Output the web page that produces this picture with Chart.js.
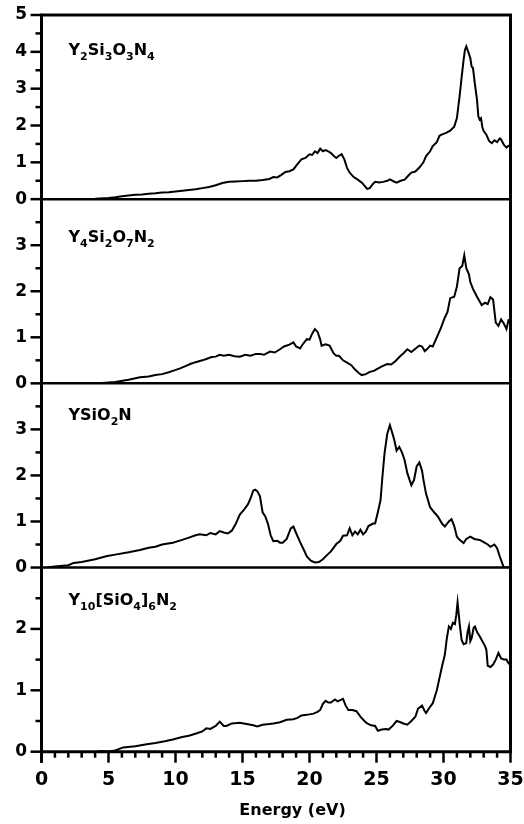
<!DOCTYPE html>
<html>
<head>
<meta charset="utf-8">
<script src="https://cdn.jsdelivr.net/npm/chart.js@4.4.1/dist/chart.umd.min.js"></script>
<style>
  html, body { margin: 0; padding: 0; background: #fff; overflow: hidden; }
  #wrap { width: 524px; height: 824px; position: relative; }
  #c { display: block; }
</style>
</head>
<body>
<div id="wrap"><canvas id="c"></canvas></div>
<script>
// Imaginary part of the dielectric function, eps2(E), for four Y-Si-O-N phases.
// Each series is a list of [energy (eV), eps2] pairs.
const y2si3o3n4 = [[2.5,0],[3,0.005],[4,0.01],[5,0.03],[5.5,0.05],[6,0.08],[6.5,0.1],[7,0.12],[7.5,0.13],[8,0.15],[8.5,0.16],[9,0.18],[9.5,0.19],[10,0.21],[10.5,0.23],[11,0.25],[11.5,0.27],[12,0.3],[12.5,0.33],[13,0.38],[13.5,0.44],[14,0.47],[14.5,0.48],[15,0.49],[15.5,0.5],[16,0.5],[16.5,0.52],[17,0.55],[17.3,0.6],[17.6,0.59],[17.9,0.66],[18.2,0.74],[18.5,0.76],[18.8,0.81],[19.1,0.95],[19.4,1.08],[19.7,1.12],[20.0,1.22],[20.2,1.2],[20.4,1.3],[20.6,1.25],[20.8,1.37],[21.0,1.3],[21.2,1.33],[21.4,1.3],[21.6,1.25],[21.8,1.18],[22.0,1.12],[22.2,1.18],[22.4,1.22],[22.6,1.08],[22.8,0.85],[23.0,0.72],[23.3,0.6],[23.6,0.53],[23.9,0.45],[24.1,0.37],[24.3,0.28],[24.5,0.3],[24.7,0.4],[24.9,0.47],[25.2,0.45],[25.5,0.47],[25.8,0.5],[26.0,0.54],[26.3,0.48],[26.5,0.45],[26.8,0.5],[27.1,0.53],[27.4,0.65],[27.6,0.72],[27.9,0.75],[28.2,0.86],[28.5,1.0],[28.7,1.17],[29.0,1.3],[29.2,1.44],[29.5,1.55],[29.7,1.72],[29.9,1.76],[30.2,1.8],[30.5,1.86],[30.8,1.97],[31.0,2.2],[31.2,2.79],[31.35,3.3],[31.5,3.78],[31.6,4.05],[31.7,4.15],[31.85,4.0],[32.0,3.83],[32.1,3.6],[32.2,3.56],[32.35,3.1],[32.5,2.7],[32.6,2.25],[32.7,2.16],[32.8,2.2],[32.9,1.95],[33.0,1.85],[33.2,1.75],[33.4,1.58],[33.6,1.52],[33.8,1.6],[34.0,1.55],[34.2,1.65],[34.3,1.62],[34.5,1.48],[34.7,1.4],[34.85,1.45],[35,1.44]];

const y4si2o7n2 = [[3.6,0],[4.5,0.01],[5.5,0.03],[6.5,0.08],[7.35,0.13],[8,0.15],[8.5,0.18],[9,0.2],[9.5,0.24],[9.8,0.27],[10.3,0.32],[10.7,0.37],[11.1,0.42],[11.5,0.46],[12,0.5],[12.3,0.53],[12.7,0.57],[13.0,0.58],[13.3,0.62],[13.6,0.6],[14.0,0.62],[14.4,0.59],[14.8,0.58],[15.2,0.62],[15.6,0.6],[16.0,0.64],[16.3,0.64],[16.6,0.62],[17.05,0.69],[17.4,0.67],[17.8,0.74],[18.1,0.8],[18.5,0.84],[18.8,0.89],[19.0,0.8],[19.3,0.76],[19.5,0.85],[19.8,0.96],[20.0,0.95],[20.2,1.08],[20.4,1.18],[20.6,1.12],[20.8,0.95],[20.9,0.82],[21.2,0.85],[21.5,0.82],[21.8,0.65],[22.0,0.6],[22.2,0.6],[22.5,0.5],[22.8,0.45],[23.1,0.4],[23.4,0.3],[23.7,0.22],[23.9,0.18],[24.2,0.2],[24.5,0.25],[24.8,0.27],[25.1,0.32],[25.4,0.37],[25.8,0.42],[26.1,0.41],[26.4,0.48],[26.8,0.6],[27.0,0.65],[27.3,0.74],[27.6,0.68],[27.9,0.75],[28.2,0.82],[28.4,0.8],[28.6,0.7],[28.8,0.75],[29.0,0.82],[29.2,0.8],[29.5,1.0],[29.8,1.2],[30.1,1.43],[30.3,1.55],[30.5,1.85],[30.8,1.88],[31.0,2.1],[31.2,2.5],[31.4,2.55],[31.55,2.78],[31.7,2.5],[31.9,2.37],[32.0,2.2],[32.2,2.05],[32.5,1.88],[32.85,1.7],[33.1,1.75],[33.3,1.72],[33.5,1.87],[33.7,1.82],[33.9,1.32],[34.1,1.25],[34.3,1.39],[34.5,1.3],[34.7,1.18],[34.85,1.37],[35,1.35]];

const ysio2n = [[0.4,0],[1,0.02],[2,0.05],[2.4,0.1],[3,0.12],[4,0.18],[4.9,0.25],[5.5,0.28],[6.5,0.33],[7.35,0.38],[8,0.43],[8.5,0.45],[9,0.5],[9.8,0.54],[10.5,0.6],[11,0.65],[11.5,0.7],[11.8,0.72],[12.3,0.7],[12.6,0.75],[13.0,0.72],[13.3,0.79],[13.6,0.76],[13.9,0.74],[14.2,0.8],[14.5,0.95],[14.8,1.15],[15.1,1.25],[15.4,1.37],[15.6,1.5],[15.8,1.67],[15.95,1.69],[16.1,1.66],[16.3,1.55],[16.5,1.2],[16.7,1.11],[16.9,0.95],[17.1,0.7],[17.3,0.57],[17.6,0.58],[17.8,0.54],[18.0,0.54],[18.3,0.62],[18.6,0.85],[18.8,0.89],[19.0,0.75],[19.3,0.55],[19.6,0.37],[19.8,0.24],[20.1,0.15],[20.4,0.11],[20.7,0.12],[21.0,0.18],[21.3,0.27],[21.6,0.35],[22.0,0.51],[22.3,0.58],[22.5,0.69],[22.8,0.7],[23.0,0.85],[23.2,0.7],[23.4,0.78],[23.6,0.72],[23.8,0.82],[24.0,0.72],[24.2,0.78],[24.4,0.9],[24.7,0.95],[24.9,0.96],[25.1,1.2],[25.3,1.46],[25.45,2.0],[25.6,2.48],[25.8,2.9],[26.0,3.09],[26.15,2.95],[26.3,2.8],[26.5,2.54],[26.7,2.62],[26.9,2.5],[27.1,2.33],[27.3,2.05],[27.6,1.79],[27.8,1.9],[28.0,2.2],[28.2,2.28],[28.4,2.1],[28.5,1.91],[28.7,1.6],[29.0,1.31],[29.3,1.2],[29.6,1.1],[29.9,0.95],[30.1,0.89],[30.4,1.0],[30.6,1.05],[30.8,0.9],[31.0,0.67],[31.2,0.6],[31.5,0.53],[31.7,0.62],[32.0,0.67],[32.3,0.62],[32.7,0.6],[33.0,0.55],[33.3,0.5],[33.5,0.45],[33.8,0.5],[34.0,0.42],[34.2,0.24],[34.4,0.08],[34.5,0],[35,0]];

const y10sio46n2 = [[4.1,0],[4.5,0.01],[4.9,0],[5.5,0.02],[6.1,0.07],[7,0.09],[7.85,0.12],[8.5,0.14],[9.2,0.17],[9.8,0.2],[10.5,0.24],[11.0,0.26],[11.6,0.3],[12.0,0.33],[12.3,0.38],[12.6,0.37],[13.0,0.42],[13.3,0.49],[13.6,0.42],[13.8,0.42],[14.2,0.46],[14.8,0.47],[15.3,0.45],[15.8,0.43],[16.1,0.41],[16.5,0.44],[17.0,0.45],[17.3,0.46],[17.8,0.48],[18.3,0.52],[18.8,0.53],[19.1,0.55],[19.4,0.59],[19.8,0.6],[20.3,0.62],[20.6,0.65],[20.8,0.68],[21.0,0.78],[21.2,0.83],[21.4,0.8],[21.6,0.8],[21.9,0.85],[22.1,0.82],[22.3,0.84],[22.5,0.86],[22.7,0.75],[22.9,0.68],[23.2,0.68],[23.5,0.66],[23.8,0.57],[24.1,0.5],[24.3,0.46],[24.6,0.43],[24.9,0.42],[25.1,0.34],[25.4,0.36],[25.7,0.37],[25.9,0.36],[26.2,0.42],[26.5,0.5],[26.8,0.48],[27.0,0.46],[27.3,0.44],[27.6,0.5],[27.9,0.57],[28.1,0.7],[28.4,0.75],[28.6,0.66],[28.7,0.63],[28.9,0.7],[29.2,0.79],[29.5,1.0],[29.7,1.2],[29.9,1.4],[30.1,1.58],[30.25,1.85],[30.4,2.04],[30.55,2.0],[30.7,2.1],[30.85,2.08],[30.95,2.22],[31.05,2.43],[31.2,2.1],[31.35,1.82],[31.5,1.75],[31.7,1.77],[31.8,1.95],[31.9,2.04],[32.0,1.8],[32.1,1.85],[32.25,2.02],[32.35,2.04],[32.5,1.95],[32.7,1.88],[32.9,1.8],[33.1,1.72],[33.2,1.66],[33.3,1.4],[33.5,1.38],[33.7,1.42],[33.9,1.5],[34.1,1.61],[34.3,1.52],[34.5,1.5],[34.7,1.5],[34.85,1.44],[35,1.42]];

// Panel order, top to bottom
const panelSeries = [y2si3o3n4, y4si2o7n2, ysio2n, y10sio46n2];
const panelMax = [5, 4, 4, 3];
// Formula labels as [main text, subscript] pieces
const panelLabels = [
  [['Y','2'],['Si','3'],['O','3'],['N','4']],
  [['Y','4'],['Si','2'],['O','7'],['N','2']],
  [['YSiO','2'],['N','']],
  [['Y','10'],['[SiO','4'],[']','6'],['N','2']]
];
const labelBaseline = [40, 43, 37, 37];
const xMin = 0, xMax = 35;
const xLabelTicks = [0, 5, 10, 15, 20, 25, 30, 35];
const xTitle = 'Energy (eV)';

const FONT = '"DejaVu Sans", "Liberation Sans", Arial, sans-serif';
const panelIds = ['p1', 'p2', 'p3', 'p4'];

// Tick values every `step` from lo to hi
function tickList(lo, hi, step) {
  const out = [];
  for (let i = 0; lo + i * step <= hi + 1e-9; i++) out.push({ value: +(lo + i * step).toFixed(3) });
  return out;
}

function yScale(k) {
  const max = panelMax[k];
  return {
    type: 'linear',
    position: 'left',
    stack: 'panels',
    stackWeight: 1,
    min: 0,
    max: max,
    grid: { display: false, drawTicks: false },
    border: { display: false },
    ticks: {
      autoSkip: false,
      padding: 14.5,
      color: '#000',
      font: { family: FONT, size: 17, weight: 'bold' },
      callback: v => (Number.isInteger(v) && !(k > 0 && v === max)) ? String(v) : ''
    },
    afterBuildTicks: s => { s.ticks = tickList(0, max, 0.5); },
    // fixed axis width; the frame margins come from layout.padding alone
    afterFit: s => { s.width = 41.5; s.paddingTop = 0; s.paddingBottom = 0; }
  };
}

const scales = {
  x: {
    type: 'linear',
    min: xMin,
    max: xMax,
    grid: { display: false, drawTicks: false },
    border: { display: false },
    ticks: {
      autoSkip: false,
      maxRotation: 0,
      padding: 17,
      color: '#000',
      font: { family: FONT, size: 19, weight: 'bold' },
      callback: v => xLabelTicks.includes(v) ? String(v) : ''
    },
    afterBuildTicks: s => { s.ticks = tickList(xMin, xMax, 1); },
    afterFit: s => { s.height = 72.3; s.paddingLeft = 0; s.paddingRight = 0; }
  }
};
// Bottom panel's axis is registered first so the stack builds upward
for (let k = panelIds.length - 1; k >= 0; k--) scales[panelIds[k]] = yScale(k);

const datasets = panelSeries.map((series, k) => ({
  data: series.map(p => ({ x: p[0], y: p[1] })),
  xAxisID: 'x',
  yAxisID: panelIds[k],
  borderColor: '#000',
  borderWidth: 2,
  pointRadius: 0,
  tension: 0,
  fill: false
}));

const framePlugin = {
  id: 'frame',
  afterDatasetsDraw(chart) {
    const { ctx, chartArea: a } = chart;
    const sx = chart.scales.x;
    ctx.save();
    ctx.strokeStyle = '#000';
    ctx.fillStyle = '#000';
    ctx.lineCap = 'butt';

    panelIds.forEach((id, k) => {
      const s = chart.scales[id];
      // y tick marks: long at integers, short at halves
      ctx.lineWidth = 2.5;
      s.ticks.forEach(t => {
        if (k > 0 && t.value === s.max) return;
        const y = s.getPixelForValue(t.value);
        const len = Number.isInteger(t.value) ? 11 : 6;
        ctx.beginPath();
        ctx.moveTo(a.left - len, y);
        ctx.lineTo(a.left, y);
        ctx.stroke();
      });
      // zero line of each panel
      if (k < panelIds.length - 1) {
        const y0 = s.getPixelForValue(0);
        ctx.lineWidth = 2.5;
        ctx.beginPath();
        ctx.moveTo(a.left, y0);
        ctx.lineTo(a.right, y0);
        ctx.stroke();
      }
      // formula label
      let x = a.left + 27;
      const yb = s.top + labelBaseline[k];
      ctx.textBaseline = 'alphabetic';
      ctx.textAlign = 'left';
      panelLabels[k].forEach(([main, sub]) => {
        ctx.font = 'bold 16px ' + FONT;
        ctx.fillText(main, x, yb);
        x += ctx.measureText(main).width;
        if (sub) {
          ctx.font = 'bold 11px ' + FONT;
          ctx.fillText(sub, x, yb + 5);
          x += ctx.measureText(sub).width;
        }
      });
    });

    // x tick marks: long every 5 eV, short every 1 eV
    ctx.lineWidth = 2.5;
    sx.ticks.forEach(t => {
      const px = sx.getPixelForValue(t.value);
      const len = t.value % 5 === 0 ? 11 : 6;
      ctx.beginPath();
      ctx.moveTo(px, a.bottom);
      ctx.lineTo(px, a.bottom + len);
      ctx.stroke();
    });

    // x axis title
    ctx.font = 'bold 16px ' + FONT;
    ctx.textAlign = 'center';
    ctx.textBaseline = 'alphabetic';
    ctx.fillText(xTitle, a.left + 251, a.bottom + 63.5);

    // outer frame
    ctx.lineWidth = 3;
    ctx.beginPath();
    ctx.moveTo(a.left, a.top);
    ctx.lineTo(a.right, a.top);
    ctx.moveTo(a.right, a.top - 1.5);
    ctx.lineTo(a.right, a.bottom + 1.5);
    ctx.moveTo(a.left, a.bottom);
    ctx.lineTo(a.right + 1.5, a.bottom);
    ctx.moveTo(a.left, a.top - 1.5);
    ctx.lineTo(a.left, a.bottom + 11);
    ctx.stroke();
    ctx.restore();
  }
};

new Chart(document.getElementById('c'), {
  type: 'line',
  data: { datasets },
  options: {
    responsive: true,
    maintainAspectRatio: false,
    animation: false,
    layout: { autoPadding: false, padding: { top: 15, right: 13.5, left: 0, bottom: 0 } },
    plugins: { legend: { display: false }, tooltip: { enabled: false } },
    scales
  },
  plugins: [framePlugin]
});
</script>
</body>
</html>
